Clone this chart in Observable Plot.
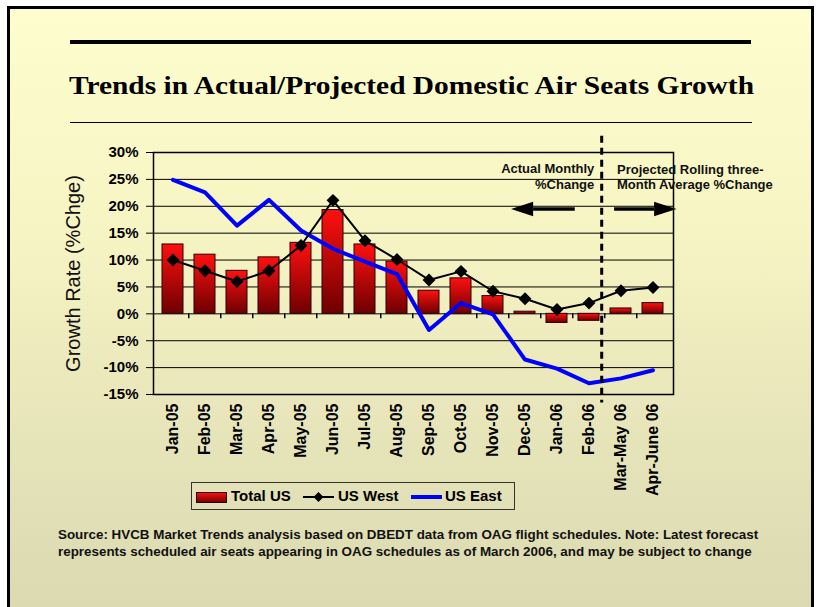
<!DOCTYPE html>
<html><head><meta charset="utf-8">
<script src="https://cdn.jsdelivr.net/npm/d3@7"></script>
<script src="https://cdn.jsdelivr.net/npm/@observablehq/plot@0.6"></script>
<style>
body{margin:0;background:#fff;font-family:"Liberation Sans",Arial,sans-serif;}
#page{position:relative;width:817px;height:607px;overflow:hidden;background:#fff}
#frame{position:absolute;left:7px;top:6px;width:801px;height:660px;border:3px solid #000;
  background:linear-gradient(to bottom,#fefdcd 0%,#f6f4c3 35%,#e6e4b9 65%,#dbd9b0 92%)}
.abs{position:absolute}
#legend{position:absolute;left:191px;top:482px;width:322px;height:26px;border:1px solid #333;box-sizing:content-box}
#legend .t{position:absolute;top:4px;font-size:15px;font-weight:bold;line-height:18px;color:#000;white-space:nowrap}
#note{position:absolute;left:58px;top:527.4px;font-size:13.4px;font-weight:bold;line-height:16.6px;color:#111;white-space:nowrap}
</style></head>
<body>
<div id="page">
  <div id="frame"></div>
  <div class="abs" style="left:70px;top:39.5px;width:681px;height:4.5px;background:#000"></div>
  <svg class="abs" style="left:0;top:60px" width="817" height="50">
    <text x="69" y="34.3" textLength="685" lengthAdjust="spacingAndGlyphs" font-family="Liberation Serif, serif" font-weight="bold" font-size="26" fill="#000">Trends in Actual/Projected Domestic Air Seats Growth</text>
  </svg>
  <div class="abs" style="left:70px;top:121.5px;width:682px;height:1px;background:#000"></div>
  <div id="chart" class="abs" style="left:0;top:120px"></div>
  <div id="legend">
    <svg class="abs" style="left:4px;top:9px" width="32" height="12">
      <defs><linearGradient id="lg1" x1="0" y1="0" x2="0" y2="1"><stop offset="0" stop-color="#ff1010"/><stop offset="1" stop-color="#6e0000"/></linearGradient></defs>
      <rect x="0.5" y="0.5" width="30" height="10" fill="url(#lg1)" stroke="#2a0000"/>
    </svg>
    <div class="t" style="left:39px">Total US</div>
    <svg class="abs" style="left:111px;top:6px" width="32" height="16">
      <line x1="0" y1="8" x2="31" y2="8" stroke="#000" stroke-width="2"/>
      <path d="M15.5,3 L20.5,8 L15.5,13 L10.5,8 Z" fill="#000"/>
    </svg>
    <div class="t" style="left:146px">US West</div>
    <svg class="abs" style="left:219px;top:6px" width="32" height="16">
      <line x1="0" y1="8" x2="31" y2="8" stroke="#0000ff" stroke-width="4"/>
    </svg>
    <div class="t" style="left:253px">US East</div>
  </div>
  <div id="note">Source: HVCB Market Trends analysis based on DBEDT data from OAG flight schedules. Note: Latest forecast<br>represents scheduled air seats appearing in OAG schedules as of March 2006, and may be subject to change</div>
</div>
<script>
const categories = ["Jan-05","Feb-05","Mar-05","Apr-05","May-05","Jun-05","Jul-05","Aug-05","Sep-05","Oct-05","Nov-05","Dec-05","Jan-06","Feb-06","Mar-May 06","Apr-June 06"];
const totalUS = [12.9, 11.0, 8.0, 10.5, 13.2, 19.3, 12.9, 9.7, 4.3, 6.6, 3.3, 0.4, -1.7, -1.3, 1.0, 2.0];
const usWest  = [10.0, 8.0, 6.0, 8.0, 12.7, 21.1, 13.6, 10.1, 6.3, 7.9, 4.2, 2.8, 0.8, 2.0, 4.3, 4.9];
const usEast  = [24.9, 22.6, 16.4, 21.2, 15.5, 12.1, 9.7, 7.4, -3.0, 2.0, -0.1, -8.5, -10.2, -12.9, -12.0, -10.5];
const yTicks  = [-15, -10, -5, 0, 5, 10, 15, 20, 25, 30];
const yTitle = "Growth Rate (%Chge)";
const actualLabel = "Actual Monthly\n%Change";
const projectedLabel = "Projected Rolling three-\nMonth Average %Change";

const data = categories.map((c, i) => ({cat: c, total: totalUS[i], west: usWest[i], east: usEast[i]}));
const NS = "http://www.w3.org/2000/svg";
const step = 520 / categories.length;

const defsMark = () => {
  const d = document.createElementNS(NS, "defs");
  d.innerHTML = '<linearGradient id="barGrad" x1="0" y1="0" x2="0" y2="1"><stop offset="0" stop-color="#ff1010"/><stop offset="1" stop-color="#6e0000"/></linearGradient>';
  return d;
};

const plot = Plot.plot({
  width: 817, height: 400,
  marginTop: 32, marginBottom: 126, marginLeft: 153, marginRight: 144,
  style: {background: "transparent", fontFamily: "Liberation Sans, Arial, sans-serif", overflow: "visible", color: "#000"},
  x: {domain: categories, paddingInner: 0.335, paddingOuter: 0.1675, align: 0.5},
  y: {domain: [-15, 30]},
  marks: [
    defsMark,
    Plot.gridY(yTicks, {stroke: "#000", strokeOpacity: 1, strokeWidth: 1}),
    Plot.barY(data, {x: "cat", y: "total", fill: "url(#barGrad)", stroke: "#2a0000", strokeWidth: 1}),
    Plot.ruleX(categories.slice(1), {x: d => d, y1: 0, y2: 0, insetBottom: -5, dx: -step / 2, stroke: "#000", strokeWidth: 1.5}),
    Plot.lineY(data, {x: "cat", y: "east", stroke: "#0000ff", strokeWidth: 4}),
    Plot.lineY(data, {x: "cat", y: "west", stroke: "#000", strokeWidth: 2}),
    Plot.dot(data, {x: "cat", y: "west", symbol: "diamond2", r: 5.8, fill: "#000", stroke: "none"}),
    Plot.axisY(yTicks, {tickFormat: d => d + "%", tickSize: 7, tickPadding: 8, fontSize: 15, fontWeight: "bold", label: null}),
    Plot.axisX({tickRotate: -90, tickSize: 0, tickPadding: 9, fontSize: 16, fontWeight: "bold", label: null}),
    Plot.text([yTitle], {frameAnchor: "left", textAnchor: "middle", rotate: -90, dx: -80, fontSize: 20, fill: "#111"}),
    Plot.frame({stroke: "#000", strokeWidth: 1.5}),
    Plot.ruleX(["Feb-06"], {x: d => d, y1: 33.0, y2: -16.6, dx: 12.7, stroke: "#000", strokeWidth: 3, strokeDasharray: "7,5"}),
    Plot.text([actualLabel], {x: ["Feb-06"], y: [25.65], dx: 5.3, textAnchor: "end", lineHeight: 1.23, fontSize: 13, fontWeight: "bold", fill: "#111"}),
    Plot.text([projectedLabel], {x: ["Mar-May 06"], y: [25.56], dx: -4, textAnchor: "start", lineHeight: 1.23, fontSize: 13, fontWeight: "bold", fill: "#111"})
  ]
});
document.getElementById("chart").appendChild(plot);

// arrows anchored to the chart's scales
const xs = plot.scale("x"), ys = plot.scale("y");
const cx = f => xs.apply(categories[0]) + xs.bandwidth / 2 + f * xs.step;
function arrow(tailF, baseF, tipF, yv) {
  const y = ys.apply(yv), xt = cx(tailF), xb = cx(baseF), xp = cx(tipF);
  const g = document.createElementNS(NS, "g");
  const l = document.createElementNS(NS, "line");
  l.setAttribute("x1", xt); l.setAttribute("x2", xb); l.setAttribute("y1", y); l.setAttribute("y2", y);
  l.setAttribute("stroke", "#000"); l.setAttribute("stroke-width", 3.6);
  const p = document.createElementNS(NS, "path");
  p.setAttribute("d", `M${xp},${y} L${xb},${y - 7.2} L${xb},${y + 7.2} Z`);
  p.setAttribute("fill", "#000");
  g.appendChild(l); g.appendChild(p);
  plot.appendChild(g);
}
arrow(12.57, 11.27, 10.58, 19.4);
arrow(13.8, 15.05, 15.75, 19.4);
</script>
</body></html>
